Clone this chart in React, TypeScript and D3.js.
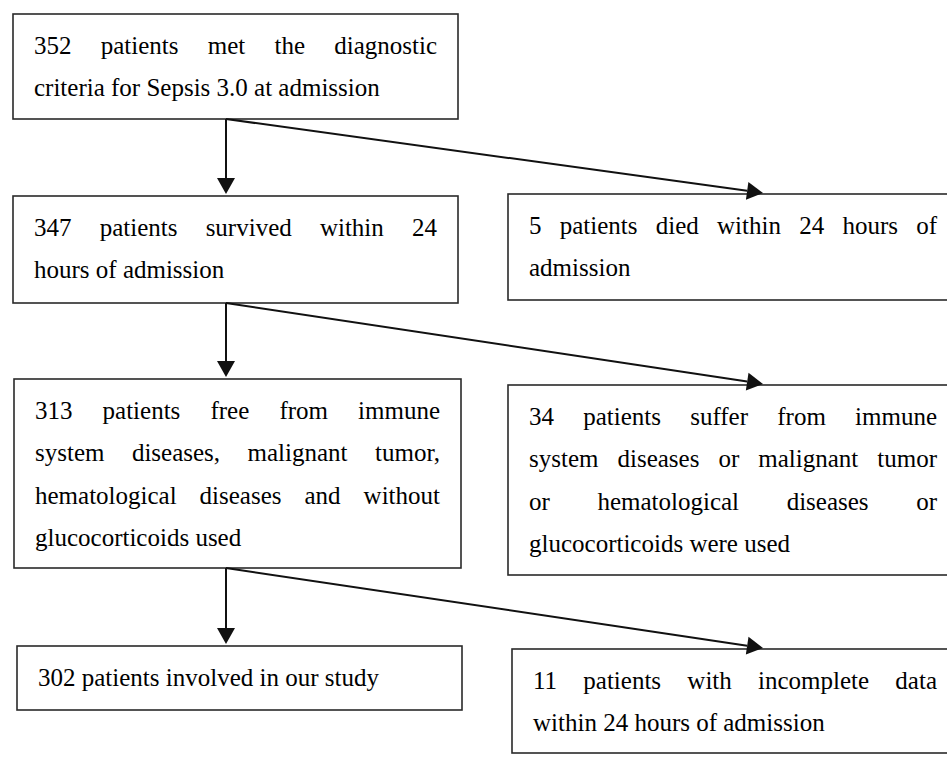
import React from "react";
import * as d3 from "d3";

// box texts, line by line as printed (last line of each box is left-aligned)
const boxIds = ["met", "survived", "died", "free", "suffer", "involved", "incomplete"];
const boxLines: string[][] = [
  ["352 patients met the diagnostic", "criteria for Sepsis 3.0 at admission"],
  ["347 patients survived within 24", "hours of admission"],
  ["5 patients died within 24 hours of", "admission"],
  [
    "313 patients free from immune",
    "system diseases, malignant tumor,",
    "hematological diseases and without",
    "glucocorticoids used",
  ],
  [
    "34 patients suffer from immune",
    "system diseases or malignant tumor",
    "or hematological diseases or",
    "glucocorticoids were used",
  ],
  ["302 patients involved in our study"],
  ["11 patients with incomplete data", "within 24 hours of admission"],
];
const links: [string, string][] = [
  ["met", "survived"],
  ["met", "died"],
  ["survived", "free"],
  ["survived", "suffer"],
  ["free", "involved"],
  ["free", "incomplete"],
];

const width = 947;
const height = 760;
const fontSize = 25;
const lineH = 42.5;
const pad = 21;
const FAMILY = "Liberation Serif";

// layout (x0, y0, x1, y1) per box
const layout: Record<string, number[]> = {
  met: [13, 14, 458, 119],
  survived: [13, 196, 458, 303],
  died: [508, 194, 958, 300],
  free: [14, 379, 461, 568],
  suffer: [508, 385, 958, 575],
  involved: [17, 646, 462, 710],
  incomplete: [512, 649, 958, 753],
};
const spineX = 226;
const rightTipX = 763;

const canvas = document.createElement("canvas");
const ctx = canvas.getContext("2d")!;
ctx.font = `${fontSize}px "${FAMILY}"`;
const textWidth = (s: string) => ctx.measureText(s).width;

// every word of every box, justified lines spread to the right padding
const words: { x: number; y: number; s: string }[] = [];
boxIds.forEach((id, i) => {
  const [x0, y0, x1] = layout[id];
  const left = x0 + pad;
  const right = Math.min(x1, 958) - pad;
  const lines = boxLines[i];
  lines.forEach((line, li) => {
    const y = y0 + 39.5 + li * lineH;
    const ws = line.split(" ");
    if (li === lines.length - 1 || ws.length < 2) {
      words.push({ x: left, y, s: line });
      return;
    }
    const widths = ws.map(textWidth);
    const gap = (right - left - d3.sum(widths)) / (ws.length - 1);
    let x = left;
    ws.forEach((w, wi) => {
      words.push({ x, y, s: w });
      x += widths[wi] + gap;
    });
  });
});

// arrows: shaft plus a filled head ending at the tip
const arrows = links.map(([s, t]) => {
  const src = layout[s];
  const tgt = layout[t];
  const vertical = tgt[0] < 300;
  const x1 = spineX;
  const y1 = src[3];
  const x2 = vertical ? spineX : rightTipX;
  const y2 = tgt[1] - (vertical ? 2 : 1);
  const len = Math.hypot(x2 - x1, y2 - y1);
  const ux = (x2 - x1) / len;
  const uy = (y2 - y1) / len;
  const bx = x2 - 16 * ux;
  const by = y2 - 16 * uy;
  const head = d3.line()([
    [x2, y2],
    [bx - 9 * uy, by + 9 * ux],
    [bx + 9 * uy, by - 9 * ux],
  ]) + "Z";
  return { key: s + t, x1, y1, bx, by, head };
});

const App = () => (
  <svg width={width} height={height} style={{ position: "absolute", left: 0, top: 0 }}>
    {boxIds.map((id) => {
      const [x0, y0, x1, y1] = layout[id];
      return (
        <rect key={id} x={x0} y={y0} width={x1 - x0} height={y1 - y0} fill="none" stroke="#2a2a2a" strokeWidth={1.6} />
      );
    })}
    {arrows.map((a) => (
      <line key={a.key} x1={a.x1} y1={a.y1} x2={a.bx} y2={a.by} stroke="#111" strokeWidth={2} />
    ))}
    {arrows.map((a) => (
      <path key={a.key + "h"} d={a.head} fill="#111" />
    ))}
    {words.map((w, wi) => (
      <text key={wi} x={w.x} y={w.y} fontSize={fontSize} style={{ fontFamily: FAMILY }}>
        {w.s}
      </text>
    ))}
  </svg>
);

export default App;
